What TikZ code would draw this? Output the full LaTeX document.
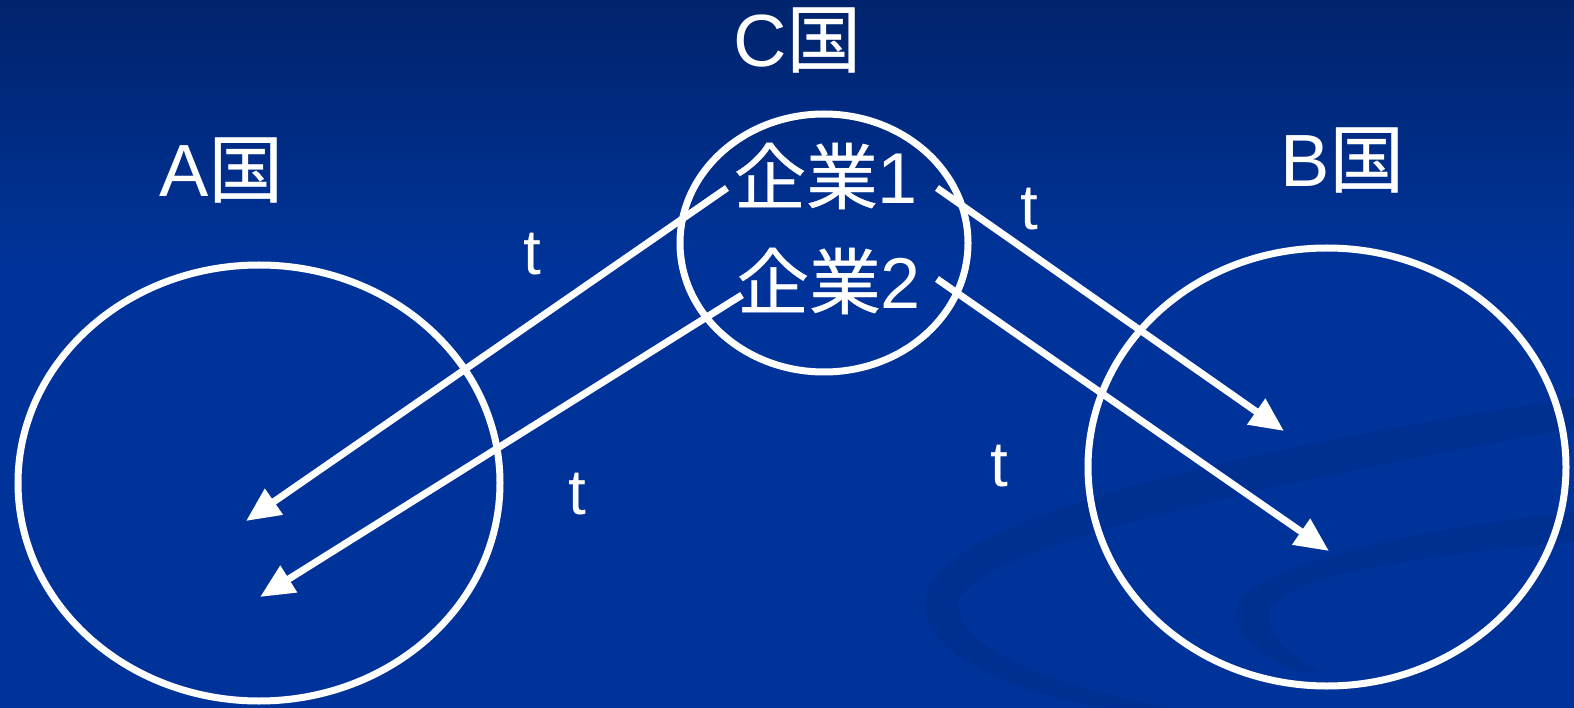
\documentclass[tikz,border=0pt]{standalone}
\usepackage{fontspec}
\setmainfont{Liberation Sans}
\newfontfamily\cjk[FakeBold=0.5]{Noto Sans CJK JP}
\usetikzlibrary{arrows.meta,shapes.geometric}
\definecolor{bgblue}{RGB}{0,51,153}
\definecolor{bgtop}{RGB}{0,35,108}
\definecolor{swirl}{RGB}{0,47,146}
\begin{document}
\begin{tikzpicture}[x=1pt,y=-1pt,
  region/.style={draw=white,line width=7pt,ellipse,inner sep=0pt,outer sep=0pt},
  lbl/.style={text=white,inner sep=0pt,font=\fontsize{74}{80}\selectfont},
  firm/.style={text=white,inner sep=0pt,font=\fontsize{72}{80}\selectfont},
  tlbl/.style={text=white,inner sep=0pt,font=\fontsize{64}{70}\selectfont},
  flow/.style={draw=white,line width=7pt,-{Triangle[length=34pt,width=30pt]}}]
\useasboundingbox (0,0) rectangle (1574,708);
% background
\fill[bgblue] (0,0) rectangle (1574,708);
\shade[top color=bgtop,bottom color=bgblue] (0,0) rectangle (1574,260);
% faint swirls
\fill[swirl] (1574,398) .. controls (1300,440) and (935,510) .. (925,600)
  .. controls (918,660) and (1040,700) .. (1110,708) -- (1170,708)
  .. controls (1050,685) and (960,650) .. (958,605)
  .. controls (965,545) and (1300,478) .. (1574,428) -- cycle;
\fill[swirl] (1574,512) .. controls (1400,530) and (1240,570) .. (1236,610)
  .. controls (1233,640) and (1270,660) .. (1300,672) -- (1320,672)
  .. controls (1280,650) and (1265,630) .. (1270,610)
  .. controls (1285,575) and (1420,555) .. (1574,542) -- cycle;
% regions
\node[region,minimum width=482pt,minimum height=436pt] (A) at (259,483) {};
\node[region,minimum width=288pt,minimum height=258pt] (C) at (824,243) {};
\node[region,minimum width=478pt,minimum height=438pt] (B) at (1327,467) {};
% labels
\node[lbl] (Cl) at (797,40) {C{\cjk 国}};
\node[lbl] (Al) at (221,170) {A{\cjk 国}};
\node[lbl] (Bl) at (1342,160) {B{\cjk 国}};
\node[firm] (f1) at (826,176) {{\cjk 企業}1};
\node[firm] (f2) at (829,281) {{\cjk 企業}2};
\node[tlbl] (t1) at (532,254) {t};
\node[tlbl] (t2) at (577,494) {t};
\node[tlbl] (t3) at (1029,209) {t};
\node[tlbl] (t4) at (999,466) {t};
% arrow ends
\coordinate (s1) at (727,188);
\coordinate (e1) at (246,521);
\coordinate (s2) at (742,295);
\coordinate (e2) at (260,597);
\coordinate (s3) at (937,188);
\coordinate (e3) at (1284,431);
\coordinate (s4) at (937,279);
\coordinate (e4) at (1329,551);
\draw[flow] (s1) -- (e1);
\draw[flow] (s2) -- (e2);
\draw[flow] (s3) -- (e3);
\draw[flow] (s4) -- (e4);
\end{tikzpicture}
\end{document}
